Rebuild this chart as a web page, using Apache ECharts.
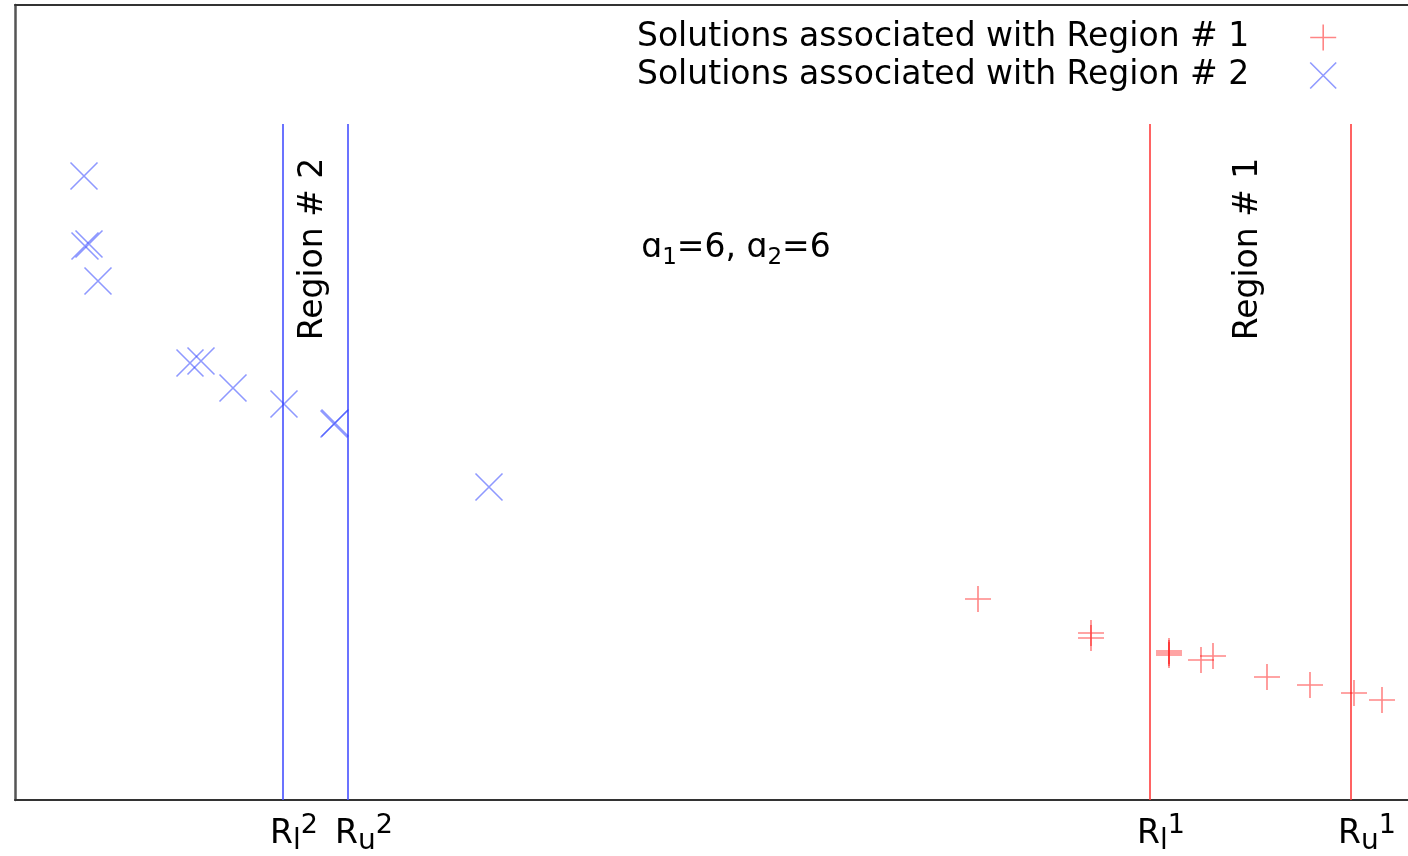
<!DOCTYPE html>
<html>
<head>
<meta charset="utf-8">
<script src="https://cdn.jsdelivr.net/npm/echarts@6/dist/echarts.min.js"></script>
<style>html,body{margin:0;padding:0;background:#fff}#c{width:1408px;height:856px}</style>
</head>
<body>
<div id="c"></div>
<script>
// ---- data (arbitrary units) ----
const region1Points = [
  [963, 201], [1076, 167], [1076, 162], [1154, 149], [1154, 147], [1154, 145],
  [1186, 140], [1198, 144], [1252, 123], [1295, 115], [1339, 107], [1367, 100]
];
const region2Points = [
  [69, 624], [70, 554], [74, 556], [83, 519], [175, 437], [186, 439],
  [218, 412], [269, 396], [319, 376], [320, 377], [474, 313]
];
const region2Bounds = [268, 333];   // R_l^2, R_u^2
const region1Bounds = [1135, 1336]; // R_l^1, R_u^1
const boundTop = 676;
const tickValues = [268, 333, 1135, 1336];
const tickLabels = ['{r|R}{sub|l}{sup|2}', '{r|R}{sub|u}{sup|2}', '{r|R}{sub|l}{sup|1}', '{r|R}{sub|u}{sup|1}'];
const seriesNames = ['Solutions associated with Region # 1', 'Solutions associated with Region # 2'];
const annotations = [
  { pos: [298, 551], text: '{t|Region # 2}', rotate: 90 },
  { pos: [1233, 551], text: '{t|Region # 1}', rotate: 90 },
  { pos: [721, 552], text: '{t|ɑ}{s|1}{t|=6, ɑ}{s|2}{t|=6}', rotate: 0 }
];

const FONT = 'DejaVu Sans';
const FS = 33;
const plusPath = 'path://M0,5L10,5M5,0L5,10';
const crossPath = 'path://M0,0L10,10M0,10L10,0';
const RED = 'rgba(255,0,0,0.6)';
const BLUE = 'rgba(40,60,255,0.65)';

function vline(x, color) {
  return {
    type: 'line', data: [[x, 0], [x, boundTop]], symbol: 'none', silent: true,
    lineStyle: { color: color, width: 1.6 }, z: 1
  };
}

const chart = echarts.init(document.getElementById('c'), null, { renderer: 'canvas' });
chart.setOption({
  animation: false,
  backgroundColor: '#fff',
  grid: { left: 15, right: 0, top: 5, bottom: 56 },
  legend: {
    orient: 'vertical', right: 66, top: 16, align: 'right',
    itemWidth: 26, itemHeight: 26, itemGap: 5,
    selectedMode: false,
    textStyle: { fontFamily: FONT, fontSize: FS, color: '#000', padding: [0, 56, 0, 0] },
    data: [
      { name: seriesNames[0], icon: plusPath, itemStyle: { color: 'transparent', borderColor: RED, borderWidth: 1.6 } },
      { name: seriesNames[1], icon: crossPath, itemStyle: { color: 'transparent', borderColor: BLUE, borderWidth: 1.6 } }
    ]
  },
  xAxis: [{
    type: 'value', min: 0, max: 1393, position: 'bottom',
    splitLine: { show: false },
    axisLine: { show: true, lineStyle: { color: '#333', width: 2 } },
    axisTick: { show: false },
    axisLabel: {
      customValues: tickValues,
      margin: 12,
      padding: [0, 0, 0, 22],
      formatter: function (v) {
        const s = tickLabels[tickValues.indexOf(v)] || '';
        return s.indexOf('{sub|u}') >= 0 ? '{gap|}' + s : s;
      },
      rich: {
        gap: { width: 10 },
        r: { fontFamily: FONT, fontSize: FS, color: '#000', lineHeight: 44, verticalAlign: 'middle' },
        sub: { fontFamily: FONT, fontSize: 28, color: '#000', verticalAlign: 'bottom', lineHeight: 44 },
        sup: { fontFamily: FONT, fontSize: 27, color: '#000', verticalAlign: 'top', lineHeight: 44 }
      }
    }
  }, {
    type: 'value', min: 0, max: 1393, position: 'top',
    splitLine: { show: false }, axisTick: { show: false }, axisLabel: { show: false },
    axisLine: { show: true, lineStyle: { color: '#333', width: 2 } }
  }],
  yAxis: {
    type: 'value', min: 0, max: 795,
    splitLine: { show: false }, axisTick: { show: false }, axisLabel: { show: false },
    axisLine: { show: true, lineStyle: { color: '#555', width: 2.5 } }
  },
  series: [
    {
      name: seriesNames[0], type: 'scatter', data: region1Points,
      symbol: plusPath, symbolSize: 26,
      itemStyle: { color: 'transparent', borderColor: RED, borderWidth: 1.6 }, z: 3
    },
    {
      name: seriesNames[1], type: 'scatter', data: region2Points,
      symbol: crossPath, symbolSize: 27,
      itemStyle: { color: 'transparent', borderColor: BLUE, borderWidth: 1.6 }, z: 3
    },
    vline(region2Bounds[0], 'rgb(70,80,255)'),
    vline(region2Bounds[1], 'rgb(70,80,255)'),
    vline(region1Bounds[0], 'rgb(255,60,60)'),
    vline(region1Bounds[1], 'rgb(255,60,60)'),
    {
      type: 'scatter', silent: true, symbolSize: 0, z: 4,
      itemStyle: { color: '#000', opacity: 1 },
      data: annotations.map(a => ({
        value: a.pos,
        label: {
          show: true, position: 'inside', rotate: a.rotate,
          formatter: a.text,
          color: '#000', textBorderWidth: 0, opacity: 1,
          rich: {
            t: { fontFamily: FONT, fontSize: FS, color: '#000', textBorderWidth: 0 },
            s: { fontFamily: FONT, fontSize: 23, color: '#000', textBorderWidth: 0, verticalAlign: 'bottom', lineHeight: 44 }
          }
        }
      }))
    }
  ]
});
</script>
</body>
</html>
